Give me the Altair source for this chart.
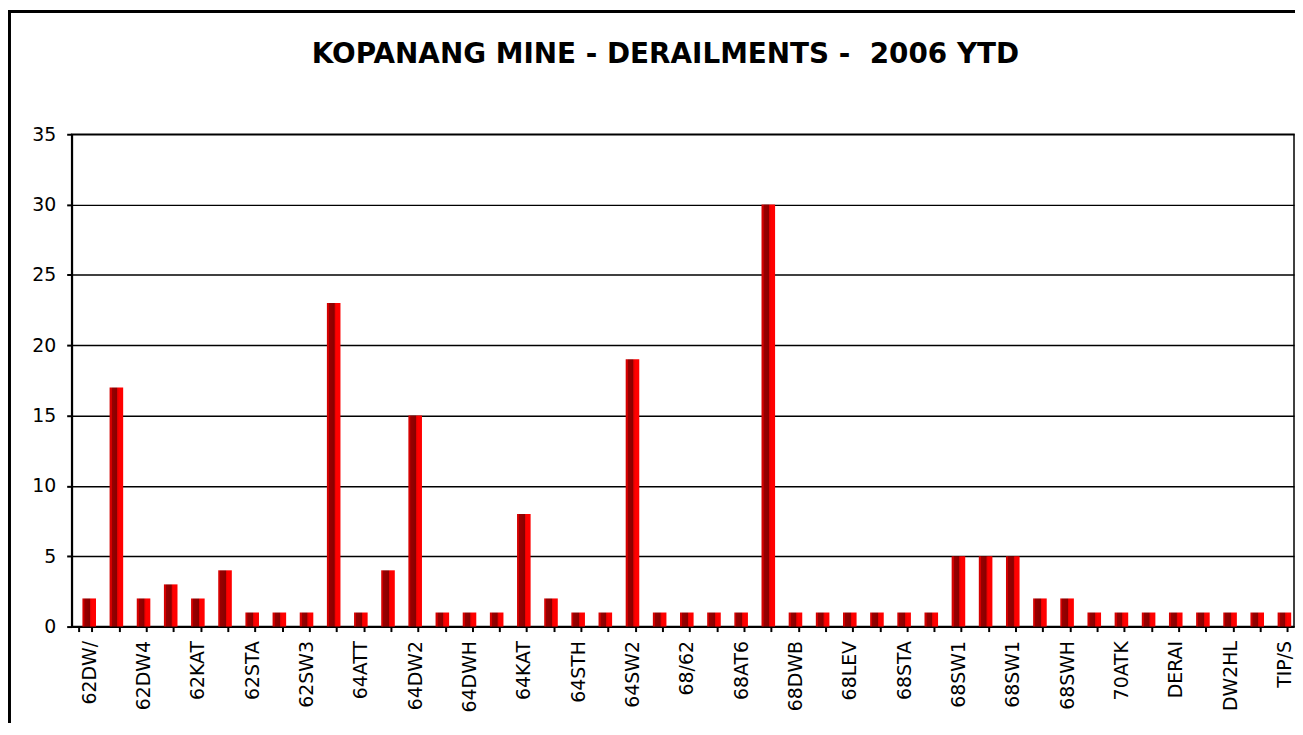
import altair as alt
import pandas as pd

title_text = "KOPANANG MINE - DERAILMENTS -\u00a0 2006 YTD"

labels = [
    "62DW/", "", "62DW4", "", "62KAT", "", "62STA", "", "62SW3", "",
    "64ATT", "", "64DW2", "", "64DWH", "", "64KAT", "", "64STH", "",
    "64SW2", "", "68/62", "", "68AT6", "", "68DWB", "", "68LEV", "",
    "68STA", "", "68SW1", "", "68SW1", "", "68SWH", "", "70ATK", "",
    "DERAI", "", "DW2HL", "", "TIP/S",
]
values = [
    2, 17, 2, 3, 2, 4, 1, 1, 1, 23,
    1, 4, 15, 1, 1, 1, 8, 2, 1, 1,
    19, 1, 1, 1, 1, 30, 1, 1, 1, 1,
    1, 1, 5, 5, 5, 2, 2, 1, 1, 1,
    1, 1, 1, 1, 1,
]
y_ticks = [0, 5, 10, 15, 20, 25, 30, 35]

df = pd.DataFrame({"idx": list(range(len(values))), "label": labels, "value": values})
label_expr = "[" + ",".join("'" + l + "'" for l in labels) + "][datum.value]"

FONT = "DejaVu Sans"

bar_fill = alt.LinearGradient(
    gradient="linear",
    x1=0, x2=1, y1=0, y2=0,
    stops=[
        alt.GradientStop(color="#D40000", offset=0),
        alt.GradientStop(color="#D40000", offset=0.14),
        alt.GradientStop(color="#990000", offset=0.16),
        alt.GradientStop(color="#880000", offset=0.55),
        alt.GradientStop(color="#E00000", offset=0.58),
        alt.GradientStop(color="#FF0000", offset=0.7),
        alt.GradientStop(color="#FF0000", offset=1),
    ],
)

bars = alt.Chart(df).mark_bar(fill=bar_fill, xOffset=4).encode(
    x=alt.X(
        "idx:O",
        title=None,
        scale=alt.Scale(paddingInner=0.5, paddingOuter=0.25),
        axis=alt.Axis(
            labelExpr=label_expr,
            labelAngle=-90,
            labelAlign="right",
            labelBaseline="middle",
            labelFont=FONT,
            labelFontSize=19,
            labelColor="black",
            labelPadding=9,
            labelOffset=4,
            tickBand="extent",
            tickSize=5,
            tickColor="black",
            tickWidth=2,
            domainColor="black",
            domainWidth=2,
            grid=False,
        ),
    ),
    y=alt.Y(
        "value:Q",
        title=None,
        scale=alt.Scale(domain=[0, 35], nice=False),
        axis=alt.Axis(
            values=y_ticks,
            labelFont=FONT,
            labelFontSize=19,
            labelColor="black",
            labelPadding=11,
            tickSize=5,
            tickColor="black",
            tickWidth=2,
            domainColor="black",
            domainWidth=2,
            grid=True,
            gridColor="black",
            gridWidth=1.5,
        ),
    ),
)

frame = alt.Chart(pd.DataFrame({"f": [1]})).mark_rect(
    fill="transparent", stroke="black", strokeWidth=3, clip=False
).encode(
    x=alt.value(-62.5),
    x2=alt.value(1300),
    y=alt.value(-123.5),
    y2=alt.value(640),
)

title = alt.Chart(pd.DataFrame({"t": [title_text]})).mark_text(
    font=FONT, fontSize=28, fontWeight="bold", color="black",
    align="center", baseline="alphabetic",
).encode(
    text="t:N",
    x=alt.value(597),
    y=alt.value(-72),
)

chart = alt.layer(frame, bars, title).properties(
    width=1229,
    height=495,
    autosize="none",
    padding={"left": 64, "top": 125, "right": 1, "bottom": 95},
    background="white",
).configure_view(stroke="black", strokeWidth=1.5)

chart.save("out.html", embed_options={"renderer": "svg", "actions": False})
